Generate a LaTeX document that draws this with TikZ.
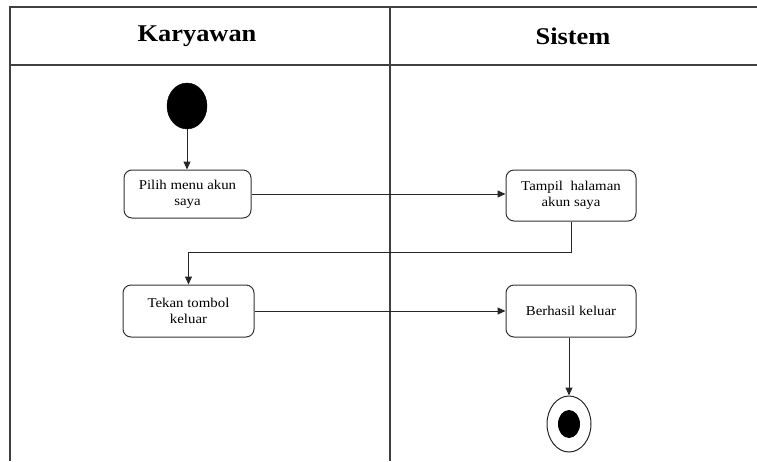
\documentclass[tikz,border=0pt]{standalone}
\usepackage{fontspec}
\setmainfont[FakeStretch=1.1]{Liberation Serif}
\usetikzlibrary{arrows.meta,shapes.geometric}
\begin{document}
\begin{tikzpicture}[x=1pt,y=-1pt,
  lane/.style={draw=black!75,line width=1.4pt},
  act/.style={draw=black!80,line width=1pt,rounded corners=8pt,rectangle,align=center,inner sep=0pt,
    font=\fontsize{13.5}{16}\selectfont},
  flow/.style={draw=black!85,line width=1pt,-{Triangle[length=8pt,width=7pt]}},
  hdr/.style={font=\fontsize{24}{26}\selectfont\bfseries}]
\useasboundingbox (0,0) rectangle (757,461);
% swimlane frame
\draw[lane] (10,461) -- (10,7) -- (757,7);
\draw[lane] (10,65) -- (757,65);
\draw[lane] (390,7) -- (390,461);
\node[hdr] (h1) at (197,36) {Karyawan};
\node[hdr] (h2) at (573,36) {Sistem};
% nodes
\node[fill=black,ellipse,minimum width=40pt,minimum height=46pt,inner sep=0pt,draw=black] (start) at (187,106) {};
\node[act,minimum width=127pt,minimum height=48pt] (pilih) at (187.5,194) {Pilih menu akun\\saya};
\node[act,minimum width=130pt,minimum height=51pt] (tampil) at (571,195.5) {Tampil~ halaman\\akun saya};
\node[act,minimum width=131pt,minimum height=52pt] (tekan) at (188.5,311) {Tekan tombol\\keluar};
\node[act,minimum width=130pt,minimum height=52pt] (berhasil) at (571,311) {Berhasil keluar};
\node[draw=black!85,line width=1pt,ellipse,minimum width=44pt,minimum height=56pt,inner sep=0pt] (end) at (569,424) {};
\node[fill=black,ellipse,minimum width=22pt,minimum height=28pt,inner sep=0pt] (endin) at (569,424) {};
\coordinate (c1) at (571,252);
\coordinate (c2) at (188.5,252);
% connectors
\draw[flow] (start.south) -- (start.south |- pilih.north);
\draw[flow] (pilih.east) -- (pilih.east -| tampil.west);
\draw[flow] (tampil.south) -- (c1) -- (c2) -- (tekan.north);
\draw[flow] (tekan.east) -- (tekan.east -| berhasil.west);
\draw[flow] (berhasil.south -| end.north) -- (end.north);
\end{tikzpicture}
\end{document}
